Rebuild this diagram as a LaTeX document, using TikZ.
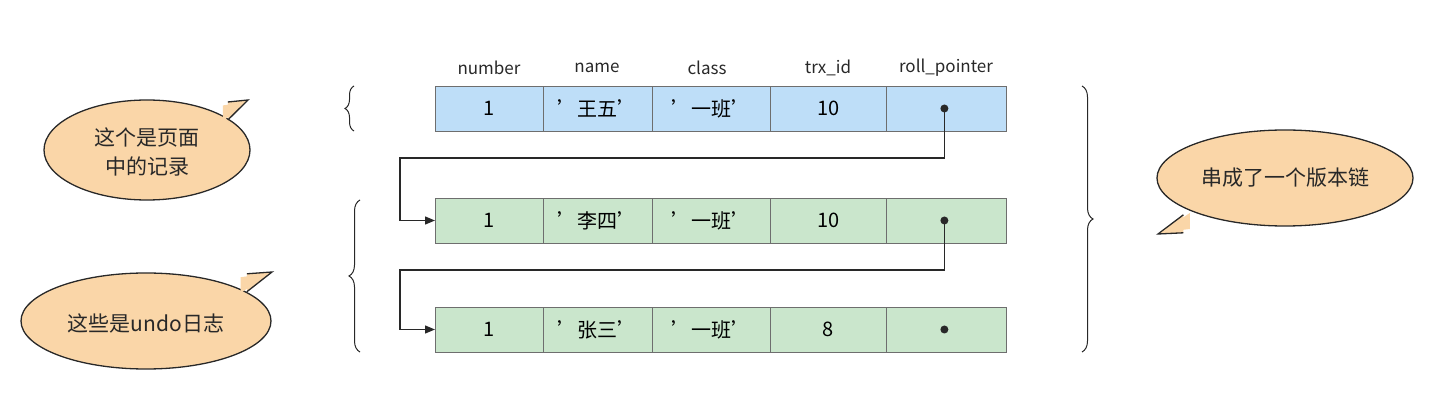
\documentclass[tikz,border=0pt]{standalone}
\usepackage{fontspec}
\setmainfont{Noto Sans CJK SC}
\usetikzlibrary{decorations.pathreplacing,arrows.meta}
\definecolor{cblue}{RGB}{190,222,248}
\definecolor{cgreen}{RGB}{202,230,204}
\definecolor{cbord}{RGB}{110,110,110}
\definecolor{corange}{RGB}{250,214,168}
\definecolor{cdark}{RGB}{40,40,40}
\tikzset{
 cell/.style={draw=cbord,line width=0.8pt,minimum height=45pt,inner sep=0pt,font=\fontsize{20}{22}\selectfont,anchor=west},
 hdr/.style={font=\fontsize{17}{19}\selectfont,text=cdark},
 conn/.style={draw=cdark,line width=1.3pt,-{Triangle[length=10pt,width=8pt]}},
 dot/.style={circle,fill=cdark,inner sep=0pt,minimum size=8pt},
 br/.style={draw=cdark,line width=1pt,decorate,decoration={brace,amplitude=11pt}},
 ctext/.style={font=\fontsize{21}{29}\selectfont,text=cdark,align=center}
}
\newcommand{\callout}[6]{% cx cy rx ry tipx tipy
 \fill[corange,draw=cdark,line width=1.3pt] (#1,#2) ellipse [x radius=#3,y radius=#4];
 \fill[corange,draw=cdark,line width=1.3pt,line join=miter] ($(#1,#2)!0.8!(#5,#6)+(0,-8)$) -- (#5,#6) -- ($(#1,#2)!0.8!(#5,#6)+(0,10)$);
 \fill[corange] (#1,#2) ellipse [x radius=#3-1.5,y radius=#4-1.5];
 \fill[corange] ($(#1,#2)!0.75!(#5,#6)+(0,-7)$) -- ($(#5,#6)!4pt!(#1,#2)$) -- ($(#1,#2)!0.75!(#5,#6)+(0,9)$) -- cycle;
}
\usetikzlibrary{calc}
\begin{document}
\begin{tikzpicture}[x=1pt,y=-1pt]
\useasboundingbox (0,0) rectangle (1445,419);
% headers
\node[hdr] (h1) at (489,68) {number};
\node[hdr] (h2) at (597,68) {name};
\node[hdr] (h3) at (707,68) {class};
\node[hdr] (h4) at (828,68) {trx\_id};
\node[hdr] (h5) at (946,68) {roll\_pointer};
% rows
\foreach \r/\y/\c/\nm/\tid in {a/108.5/cblue/'王五'/10, b/220.5/cgreen/'李四'/10, c/329.5/cgreen/'张三'/8}{
 \node[cell,fill=\c,minimum width=108pt] (\r1) at (435,\y) {1};
 \node[cell,fill=\c,minimum width=109pt] (\r2) at (543,\y) {\nm};
 \node[cell,fill=\c,minimum width=118pt] (\r3) at (652,\y) {'一班'};
 \node[cell,fill=\c,minimum width=116pt] (\r4) at (770,\y) {\tid};
 \node[cell,fill=\c,minimum width=120pt] (\r5) at (886,\y) {};
 \node[dot] (\r d) at ([xshift=-2pt]\r5.center) {};
}
\coordinate (k1) at (400,158);
\coordinate (k2) at (400,270);
\draw[conn] (ad.center) |- (k1) |- (b1.west);
\draw[conn] (bd.center) |- (k2) |- (c1.west);
% braces
\draw[br,decoration={amplitude=9pt}] (354,131) -- (354,86);
\draw[br] (360,352) -- (360,200);
\draw[br] (1082,86) -- (1082,352);
% callouts
\callout{147}{150}{103}{50}{248}{100}
\node[ctext] (t1) at (147,152) {这个是页面\\中的记录};
\callout{146}{321}{125}{48}{272}{272}
\node[ctext] (t2) at (146,323) {这些是undo日志};
\callout{1285}{178}{128}{48}{1158}{234}
\node[ctext] (t3) at (1285,178) {串成了一个版本链};
\end{tikzpicture}
\end{document}
